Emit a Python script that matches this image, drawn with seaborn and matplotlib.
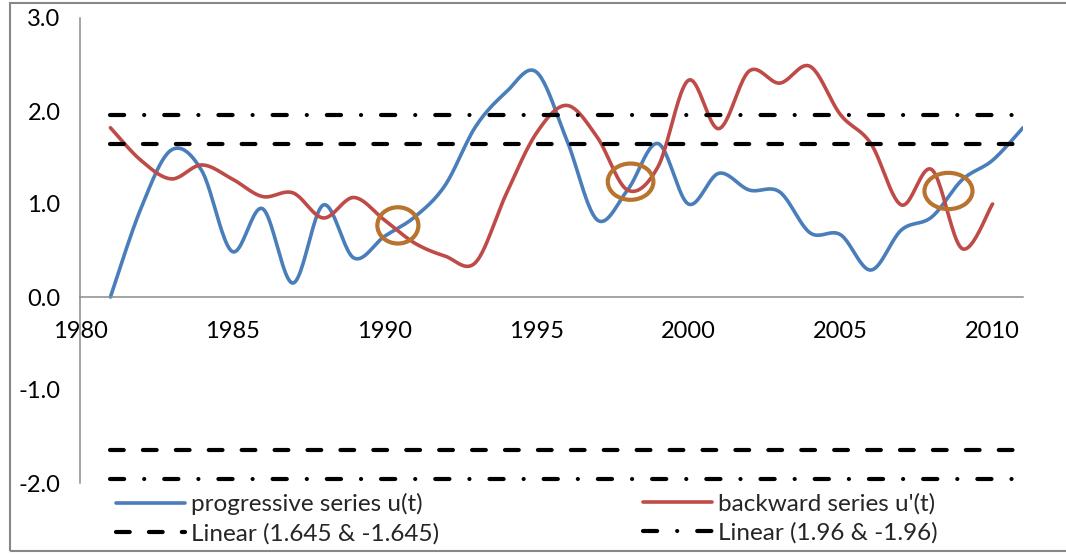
import numpy as np
import matplotlib
matplotlib.use("Agg")
import matplotlib.pyplot as plt
from matplotlib.patches import Ellipse, Rectangle
import seaborn as sns

# Mann-Kendall statistics
years_prog = list(range(1981, 2012))
u_prog = [0.0, 0.95, 1.58, 1.36, 0.49, 0.95, 0.15, 0.99, 0.42, 0.65,
          0.86, 1.20, 1.83, 2.20, 2.42, 1.69, 0.83, 1.15, 1.65, 1.00,
          1.33, 1.15, 1.13, 0.69, 0.67, 0.29, 0.72, 0.86, 1.26, 1.47, 1.82]

years_back = list(range(1981, 2011))
u_back = [1.82, 1.47, 1.27, 1.42, 1.27, 1.08, 1.12, 0.85, 1.07, 0.83,
          0.58, 0.44, 0.37, 1.10, 1.76, 2.06, 1.72, 1.15, 1.40, 2.33,
          1.81, 2.43, 2.30, 2.48, 1.96, 1.65, 0.99, 1.37, 0.52, 1.00]

# significance thresholds
level_90 = 1.645
level_95 = 1.96
threshold_span = [1981, 2011]

# approximate crossing points of the two series
crossings_year = [1990.45, 1998.1, 2008.55]
crossings_value = [0.77, 1.24, 1.14]

labels = ["progressive series u(t)", "backward series u'(t)",
          "Linear (1.645 & -1.645)", "Linear (1.96 & -1.96)"]

y_ticks = [-2.0, -1.0, 0.0, 1.0, 2.0, 3.0]
x_ticks = [1980, 1985, 1990, 1995, 2000, 2005, 2010]


def smooth_curve(xs, ys, n=24):
    """Bezier smoothing through every point (spreadsheet-style smoothed line)."""
    xs = np.asarray(xs, float)
    ys = np.asarray(ys, float)
    px = np.concatenate([[xs[0]], xs, [xs[-1]]])
    py = np.concatenate([[ys[0]], ys, [ys[-1]]])
    out_x, out_y = [], []
    t = np.linspace(0, 1, n, endpoint=False)
    for i in range(1, len(px) - 2):
        p0x, p0y = px[i], py[i]
        p3x, p3y = px[i + 1], py[i + 1]
        c1x = p0x + (px[i + 1] - px[i - 1]) / 6
        c1y = p0y + (py[i + 1] - py[i - 1]) / 6
        c2x = p3x - (px[i + 2] - px[i]) / 6
        c2y = p3y - (py[i + 2] - py[i]) / 6
        b0 = (1 - t) ** 3
        b1 = 3 * (1 - t) ** 2 * t
        b2 = 3 * (1 - t) * t ** 2
        b3 = t ** 3
        out_x.append(b0 * p0x + b1 * c1x + b2 * c2x + b3 * p3x)
        out_y.append(b0 * p0y + b1 * c1y + b2 * c2y + b3 * p3y)
    out_x.append([xs[-1]])
    out_y.append([ys[-1]])
    return np.concatenate(out_x), np.concatenate(out_y)


sns.set_style("white")
plt.rcParams["font.family"] = ["Lato", "DejaVu Sans"]

W, H = 1066, 554
fig = plt.figure(figsize=(W / 100, H / 100), dpi=100)
ax = fig.add_axes([80 / W, (H - 483) / H, (1023 - 80) / W, (483 - 18) / H])

blue = "#4A7EBB"
red = "#BE4B48"
ring = "#B8732F"
grey = "#8C8C8C"

sx, sy = smooth_curve(years_prog, u_prog)
sns.lineplot(x=sx, y=sy, sort=False, estimator=None, color=blue,
             linewidth=2.6, ax=ax, label=labels[0])
h_prog = ax.lines[-1]

bx, by = smooth_curve(years_back, u_back)
sns.lineplot(x=bx, y=by, sort=False, estimator=None, color=red,
             linewidth=2.6, ax=ax, label=labels[1])
h_back = ax.lines[-1]

dash_style = (0, (3.3, 4.6))
dashdot_style = (0, (3.4, 4.8, 0.01, 4.8))
lw_thr = 3.0
for lvl in (level_90, -level_90):
    h_90, = ax.plot(threshold_span, [lvl, lvl], color="black", lw=lw_thr,
                    linestyle=dash_style, dash_capstyle="round")
for lvl in (level_95, -level_95):
    h_95, = ax.plot(threshold_span, [lvl, lvl], color="black", lw=lw_thr,
                    linestyle=dashdot_style, dash_capstyle="round")

for cx, cy, w in zip(crossings_year, crossings_value, [1.35, 1.5, 1.58]):
    ax.add_patch(Ellipse((cx, cy), width=w, height=0.39, fill=False,
                         edgecolor=ring, linewidth=3.0, zorder=5))

ax.set_xlim(1980, 2011)
ax.set_ylim(-2.0, 3.0)
ax.set_xticks(x_ticks)
ax.set_xticklabels([str(v) for v in x_ticks])
ax.set_yticks(y_ticks)
ax.set_yticklabels([f"{v:.1f}" for v in y_ticks])

for side in ("top", "right"):
    ax.spines[side].set_visible(False)
ax.spines["bottom"].set_position(("data", 0))
for side in ("left", "bottom"):
    ax.spines[side].set_color(grey)
    ax.spines[side].set_linewidth(1.1)

ax.tick_params(axis="both", which="major", direction="out", length=6,
               width=1.1, color=grey, labelsize=17, labelcolor="black")
ax.tick_params(axis="x", pad=11)
ax.tick_params(axis="y", pad=8)
ax.set_xlabel("")
ax.set_ylabel("")
if ax.get_legend() is not None:
    ax.get_legend().remove()

leg_kw = dict(frameon=False, fontsize=17.5, handlelength=2.85,
              handletextpad=0.25, labelspacing=0.32, borderpad=0,
              borderaxespad=0, loc="upper left")
leg1 = fig.legend([h_prog, h_90], [labels[0], labels[2]],
                  bbox_to_anchor=(116 / W, (H - 493) / H), **leg_kw)
leg2 = fig.legend([h_back, h_95], [labels[1], labels[3]],
                  bbox_to_anchor=(643 / W, (H - 493) / H), **leg_kw)

fig.patches.append(Rectangle((10 / W, 3 / H), (W + 10) / W, (551 - 3) / H,
                             transform=fig.transFigure, fill=False,
                             edgecolor="#878787", linewidth=1.5))

fig.savefig("out.png", dpi=100)
